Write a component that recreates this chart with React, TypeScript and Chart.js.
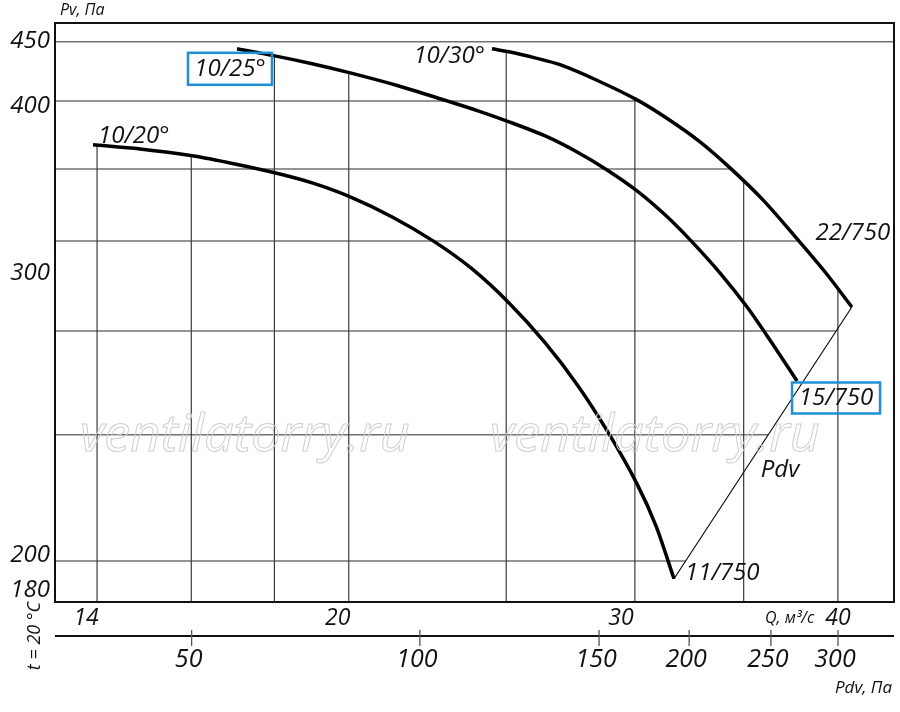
import { useEffect, useRef } from 'react'
import { Chart, registerables } from 'chart.js'

Chart.register(...registerables)

// Fan curves: Q, m³/s  vs  Pv, Pa
const Q_20 = [13.92, 14.88, 16.02, 17.02, 18.01, 18.99, 20.04, 21.27, 22.54, 23.78, 25.1, 26.42, 27.68, 28.92, 30.09, 30.91, 31.71]
const PV_20 = [366.1, 362.9, 357.7, 351.6, 345.1, 337.8, 328.0, 314.4, 298.9, 282.3, 262.2, 241.0, 220.1, 198.9, 179.0, 163.8, 146.5]

const Q_25 = [17.07, 18.01, 18.99, 20.04, 21.45, 22.99, 24.02, 25.1, 26.42, 27.64, 28.84, 30.09, 31.31, 32.53, 33.85, 35.17, 36.43, 37.75]
const PV_25 = [448.3, 441.7, 434.4, 426.1, 414.7, 401.6, 393.3, 384.3, 373.0, 360.6, 347.2, 332.2, 315.8, 298.3, 279.3, 260.0, 241.0, 222.4]

const Q_30 = [24.5, 25.1, 26.04, 26.98, 28.47, 30.09, 31.44, 32.9, 34.33, 35.97, 37.75, 39.28, 40.8]
const PV_30 = [448.3, 445.5, 439.8, 433.5, 419.1, 402.5, 386.6, 368.4, 348.7, 325.9, 300.2, 279.9, 260.0]

// Pdv line joining the curve ends
const Q_PDV = [31.71, 40.8]
const PV_PDV = [146.5, 260.0]

// grid levels as drawn in the picture
const Q_GRID = [14, 16, 18, 20, 25, 30, 35, 40]
const PV_GRID = [455, 401.6, 347.9, 298.9, 247.2, 198.5, 152.1]

// printed labels and the level where the picture prints each one
const Q_TICKS = [14, 20, 30, 40]
const PV_LABELS = ['450', '400', '300', '200', '180']
const PV_LABEL_AT = [456, 397, 279, 154, 143]
const PDV_LABELS = ['50', '100', '150', '200', '250', '300']
const PDV_TICK_AT = [50.8, 95.1, 155.6, 199.3, 249.5, 300]

const Q_LABEL_SHIFT = [-11, -11, -14, 0]
const FONT = '"Open Sans", "DejaVu Sans", sans-serif'
const BLUE = '#1f8fd6'

type Pt = { x: number; y: number }

const yAtX = (pts: Pt[], x: number): number | null => {
  for (let i = 0; i < pts.length - 1; i++) {
    const a = pts[i], b = pts[i + 1]
    if (x >= a.x && x <= b.x && b.x > a.x) return a.y + ((b.y - a.y) * (x - a.x)) / (b.x - a.x)
  }
  return null
}

const xAtY = (pts: Pt[], y: number): number | null => {
  let best: number | null = null
  for (let i = 0; i < pts.length - 1; i++) {
    const a = pts[i], b = pts[i + 1]
    const lo = Math.min(a.y, b.y), hi = Math.max(a.y, b.y)
    if (y >= lo && y <= hi && hi > lo) {
      const x = a.x + ((b.x - a.x) * (y - a.y)) / (b.y - a.y)
      if (best === null || x > best) best = x
    }
  }
  return best
}

const text = (ctx: CanvasRenderingContext2D, s: string, x: number, y: number, size: number, align: CanvasTextAlign = 'center') => {
  ctx.font = `italic ${size}px ${FONT}`
  ctx.textAlign = align
  ctx.textBaseline = 'middle'
  ctx.fillText(s, x, y)
}

const toPoints = (qs: number[], ps: number[]) => qs.map((q, i) => ({ x: q, y: ps[i] }))

const curvePixels = (chart: Chart): Pt[][] =>
  chart.data.datasets.map((_, i) => chart.getDatasetMeta(i).data.map(p => ({ x: p.x, y: p.y })))

const gridPlugin = {
  id: 'clippedGrid',
  beforeDatasetsDraw(chart: Chart) {
    const { ctx, chartArea: a, scales } = chart
    const curves = curvePixels(chart)
    ctx.save()
    // horizontal lines run from the Pv axis to the outermost curve
    ctx.strokeStyle = '#707070'
    ctx.lineWidth = 1.5
    PV_GRID.forEach(v => {
      const y = scales.y.getPixelForValue(v)
      let right: number | null = null
      curves.forEach(c => {
        const x = xAtY(c, y)
        if (x !== null && (right === null || x > right)) right = x
      })
      ctx.beginPath()
      ctx.moveTo(a.left, y)
      ctx.lineTo(right ?? a.right, y)
      ctx.stroke()
    })
    // vertical lines run from the Q axis up to the highest curve
    ctx.strokeStyle = '#3a3a3a'
    ctx.lineWidth = 1.2
    Q_GRID.forEach(v => {
      const x = scales.x.getPixelForValue(v)
      let top: number | null = null
      curves.forEach(c => {
        const y = yAtX(c, x)
        if (y !== null && (top === null || y < top)) top = y
      })
      ctx.beginPath()
      ctx.moveTo(x, a.bottom)
      ctx.lineTo(x, top ?? a.top)
      ctx.stroke()
    })
    ctx.restore()
  },
  afterDatasetsDraw(chart: Chart) {
    const { ctx, chartArea: a, scales } = chart
    const curves = curvePixels(chart)
    ctx.save()

    // watermark
    ctx.font = `italic 52px ${FONT}`
    ctx.textAlign = 'left'
    ctx.textBaseline = 'alphabetic'
    ctx.strokeStyle = '#cfcfcf'
    ctx.lineWidth = 1
    const wm = 'ventilatorry.ru'
    const sx = 330 / ctx.measureText(wm).width
    ;[a.left + 25, a.left + 435].forEach(x0 => {
      ctx.save()
      ctx.translate(x0, a.top + 428)
      ctx.scale(sx, 1)
      ctx.strokeText(wm, 0, 0)
      ctx.restore()
    })

    // frame
    ctx.strokeStyle = '#111'
    ctx.lineWidth = 2
    ctx.strokeRect(a.left, a.top, a.right - a.left, a.bottom - a.top)

    ctx.fillStyle = '#111'
    // Pv axis
    text(ctx, 'Pv, Па', a.left + 5, a.top - 13, 16, 'left')
    PV_LABELS.forEach((s, i) => text(ctx, s, a.left - 5, scales.y.getPixelForValue(PV_LABEL_AT[i]), 24, 'right'))

    // Q axis labels
    Q_TICKS.forEach((v, i) => text(ctx, String(v), scales.x.getPixelForValue(v) + Q_LABEL_SHIFT[i], a.bottom + 16, 23))
    text(ctx, 'Q, м³/с', a.right - 129, a.bottom + 16, 16, 'left')

    // Pdv axis
    const yAx = a.bottom + 34
    ctx.strokeStyle = '#111'
    ctx.lineWidth = 2
    ctx.beginPath()
    ctx.moveTo(a.left, yAx)
    ctx.lineTo(a.right, yAx)
    ctx.stroke()
    ctx.strokeStyle = '#555'
    ctx.lineWidth = 1.3
    PDV_TICK_AT.forEach((v, i) => {
      const x = scales.xPdv.getPixelForValue(v)
      ctx.beginPath()
      ctx.moveTo(x, yAx - 6)
      ctx.lineTo(x, yAx + 10)
      ctx.stroke()
      text(ctx, PDV_LABELS[i], x - 3, yAx + 24, 25)
    })
    text(ctx, 'Pdv, Па', a.right - 2, yAx + 52, 17, 'right')

    // t = 20 °C (vertical)
    ctx.save()
    ctx.translate(35, a.bottom + 34)
    ctx.rotate(-Math.PI / 2)
    text(ctx, 't = 20 °C', 0, 0, 18)
    ctx.restore()

    // curve labels
    const [c20, c25, c30, cPdv] = curves
    const s20 = c20[0], e20 = c20[c20.length - 1]
    const s25 = c25[0], e25 = c25[c25.length - 1]
    const s30 = c30[0], e30 = c30[c30.length - 1]
    text(ctx, '10/20°', s20.x + 5, s20.y - 9, 24, 'left')
    text(ctx, '10/25°', s25.x - 7, s25.y + 20, 24)
    text(ctx, '10/30°', s30.x - 7, s30.y + 7, 24, 'right')
    text(ctx, '11/750', e20.x + 11, e20.y - 6, 24, 'left')
    text(ctx, '15/750', e25.x + 39, e25.y + 17, 24)
    text(ctx, '22/750', e30.x + 1, e30.y - 74, 24)
    const m = { x: (cPdv[0].x + cPdv[1].x) / 2, y: (cPdv[0].y + cPdv[1].y) / 2 }
    text(ctx, 'Pdv', m.x + 17, m.y + 27, 24)

    // blue boxes
    ctx.strokeStyle = BLUE
    ctx.lineWidth = 2.5
    ctx.strokeRect(s25.x - 7 - 42, s25.y + 20 - 16, 84, 32)
    ctx.strokeRect(e25.x + 39 - 44, e25.y + 17 - 15.5, 88, 31)

    ctx.restore()
  },
}

export default function App() {
  const chartRef = useRef<HTMLCanvasElement>(null)

  useEffect(() => {
    if (!chartRef.current) return
    const line = (qs: number[], ps: number[], width: number, tension: number) => ({
      data: toPoints(qs, ps),
      borderColor: '#000',
      borderWidth: width,
      pointRadius: 0,
      fill: false,
      tension,
    })
    const chart = new Chart(chartRef.current, {
      type: 'line',
      data: {
        datasets: [
          line(Q_20, PV_20, 3.5, 0.3),
          line(Q_25, PV_25, 3.5, 0.3),
          line(Q_30, PV_30, 3.5, 0.3),
          line(Q_PDV, PV_PDV, 1.1, 0),
        ],
      },
      options: {
        responsive: false,
        animation: false,
        events: [],
        layout: { padding: { left: 55, top: 23, right: 6, bottom: 110 } },
        plugins: { legend: { display: false }, tooltip: { enabled: false } },
        scales: {
          x: { type: 'logarithmic', min: 13.19, max: 43.31, bounds: 'data', display: false },
          xPdv: { type: 'logarithmic', axis: 'x', position: 'bottom', min: 34.9, max: 349.9, bounds: 'data', display: false },
          y: { type: 'logarithmic', min: 139.5, max: 473.4, bounds: 'data', display: false },
        },
      },
      plugins: [gridPlugin],
    })
    return () => chart.destroy()
  }, [])

  return (
    <div style={{ position: 'absolute', left: 0, top: 0, width: 900, height: 712, background: '#fff' }}>
      <canvas ref={chartRef} width={900} height={712} style={{ display: 'block' }} />
    </div>
  )
}
